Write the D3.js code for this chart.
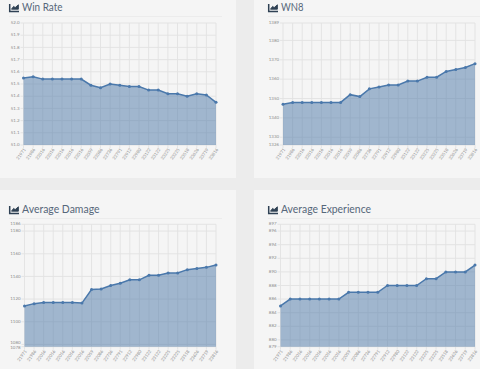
<!DOCTYPE html>
<html><head><meta charset="utf-8">
<script src="https://cdn.jsdelivr.net/npm/d3@7"></script>
<style>html,body{margin:0;padding:0;background:#ececec;overflow:hidden}svg{display:block}</style>
</head><body><svg id="c" width="480" height="369"></svg>
<script>
const dates = ["21971","21986","22016","22016","22016","22016","22016","22059","22086","22736","22791","22912","22980","23122","23122","23225","23225","23518","23626","23719","23816"];
const winRate = [51.55,51.56,51.54,51.54,51.54,51.54,51.54,51.49,51.47,51.50,51.49,51.48,51.48,51.45,51.45,51.42,51.42,51.40,51.42,51.41,51.35];
const wn8 = [1347,1348,1348,1348,1348,1348,1348,1352,1351,1355,1356,1357,1357,1359,1359,1361,1361,1364,1365,1366,1368];
const damage = [1114,1116,1117,1117,1117,1117,1116.5,1128.5,1129,1132,1134,1137,1137,1141,1141,1143,1143,1146,1147,1148,1150];
const experience = [885,886,886,886,886,886,886,887,887,887,887,888,888,888,888,889,889,890,890,890,891];
const winRateTicks = [51.0,51.1,51.2,51.3,51.4,51.5,51.6,51.7,51.8,51.9,52.0];
const wn8Ticks = [1326,1330,1340,1350,1360,1370,1380,1389];
const damageTicks = [1078,1080,1100,1120,1140,1160,1180,1186];
const experienceTicks = [879,880,882,884,886,888,890,892,894,896,897];
const titles = ["Win Rate","WN8","Average Damage","Average Experience"];

const svg = d3.select("#c");
const panels = [
 {title:titles[0],v:winRate,t:winRateTicks,fmt:d3.format(".1f"),px:[0,236],py:[-10,178],tx:9,ty:8,tw:40.5,rule:[9,222,16.5],x:[23.5,216],y:[145,23],d:[51,52]},
 {title:titles[1],v:wn8,t:wn8Ticks,fmt:d3.format("d"),px:[254,480],py:[-10,178],tx:268,ty:8,tw:22.5,rule:[268,480,16.5],x:[283,475],y:[145,23],d:[1326,1389]},
 {title:titles[2],v:damage,t:damageTicks,fmt:d3.format("d"),px:[0,236],py:[190,369],tx:9,ty:210,tw:77.5,rule:[9,222,218.5],x:[24.5,216],y:[346.7,224.3],d:[1078,1186],nudge:{1078:1.4,1080:-1.6}},
 {title:titles[3],v:experience,t:experienceTicks,fmt:d3.format("d"),px:[254,480],py:[190,369],tx:268,ty:210,tw:90,rule:[268,480,218.5],x:[280.5,475],y:[346.7,224.3],d:[879,897]}
];
const font = "Lato, 'Open Sans', sans-serif";
panels.forEach(p=>{
 svg.append("rect").attr("x",p.px[0]).attr("y",p.py[0]).attr("width",p.px[1]-p.px[0]).attr("height",p.py[1]-p.py[0]).attr("fill","#f5f5f5");
 const g = svg.append("g");
 const ic = g.append("g").attr("transform",`translate(${p.tx},${p.ty-4})`).attr("stroke","#2f4154");
 ic.append("path").attr("fill","none").attr("d","M0.7,0V7.6H10").attr("stroke-width",1.5);
 ic.append("path").attr("fill","#2f4154").attr("d","M2.5,5.2L4.6,2.4L6.2,3.6L9.4,0.8V5.2Z").attr("stroke-width",0.9);
 g.append("text").attr("x",p.tx+13).attr("y",p.ty+0.3).attr("dominant-baseline","middle").attr("font-family",font).attr("font-size",12).attr("textLength",p.tw).attr("lengthAdjust","spacingAndGlyphs").attr("fill","#56677a").text(p.title);
 g.append("line").attr("x1",p.rule[0]).attr("x2",p.rule[1]).attr("y1",p.rule[2]).attr("y2",p.rule[2]).attr("stroke","#ececec");

 const x = d3.scalePoint().domain(d3.range(dates.length)).range(p.x);
 const y = d3.scaleLinear().domain(p.d).range(p.y);
 g.append("g").selectAll("line").data(p.t).join("line")
  .attr("x1",p.x[0]-3).attr("x2",p.x[1]).attr("y1",d=>y(d)).attr("y2",d=>y(d)).attr("stroke","#e2e2e2").attr("stroke-width",0.9);
 g.append("g").selectAll("line").data(d3.range(dates.length)).join("line")
  .attr("x1",d=>x(d)).attr("x2",d=>x(d)).attr("y1",p.y[1]).attr("y2",p.y[0]+3).attr("stroke","#e2e2e2").attr("stroke-width",0.9);
 g.append("g").selectAll("text").data(p.t).join("text")
  .attr("x",p.x[0]-4).attr("y",d=>y(d)+(p.nudge&&p.nudge[d]||0)).attr("text-anchor","end").attr("dominant-baseline","middle")
  .attr("font-family",font).attr("font-size",4.4).attr("fill","#8a8a8a").text(p.fmt);
 g.append("g").selectAll("text").data(dates).join("text")
  .attr("transform",(d,i)=>`translate(${x(i)+1.5},${p.y[0]+4}) rotate(-55)`).attr("text-anchor","end").attr("dominant-baseline","middle")
  .attr("font-family",font).attr("font-size",4.4).attr("fill","#8f8f8f").text(d=>d);
 const area = d3.area().x((d,i)=>x(i)).y0(p.y[0]).y1(d=>y(d));
 const line = d3.line().x((d,i)=>x(i)).y(d=>y(d));
 g.append("path").datum(p.v).attr("d",area).attr("fill","#4b78a8").attr("fill-opacity",0.5);
 g.append("path").datum(p.v).attr("d",line).attr("fill","none").attr("stroke","#4a78ab").attr("stroke-width",1.5);
 g.append("g").selectAll("circle").data(p.v).join("circle").attr("cx",(d,i)=>x(i)).attr("cy",d=>y(d)).attr("r",1.5).attr("fill","#4a78ab");
});
</script></body></html>
